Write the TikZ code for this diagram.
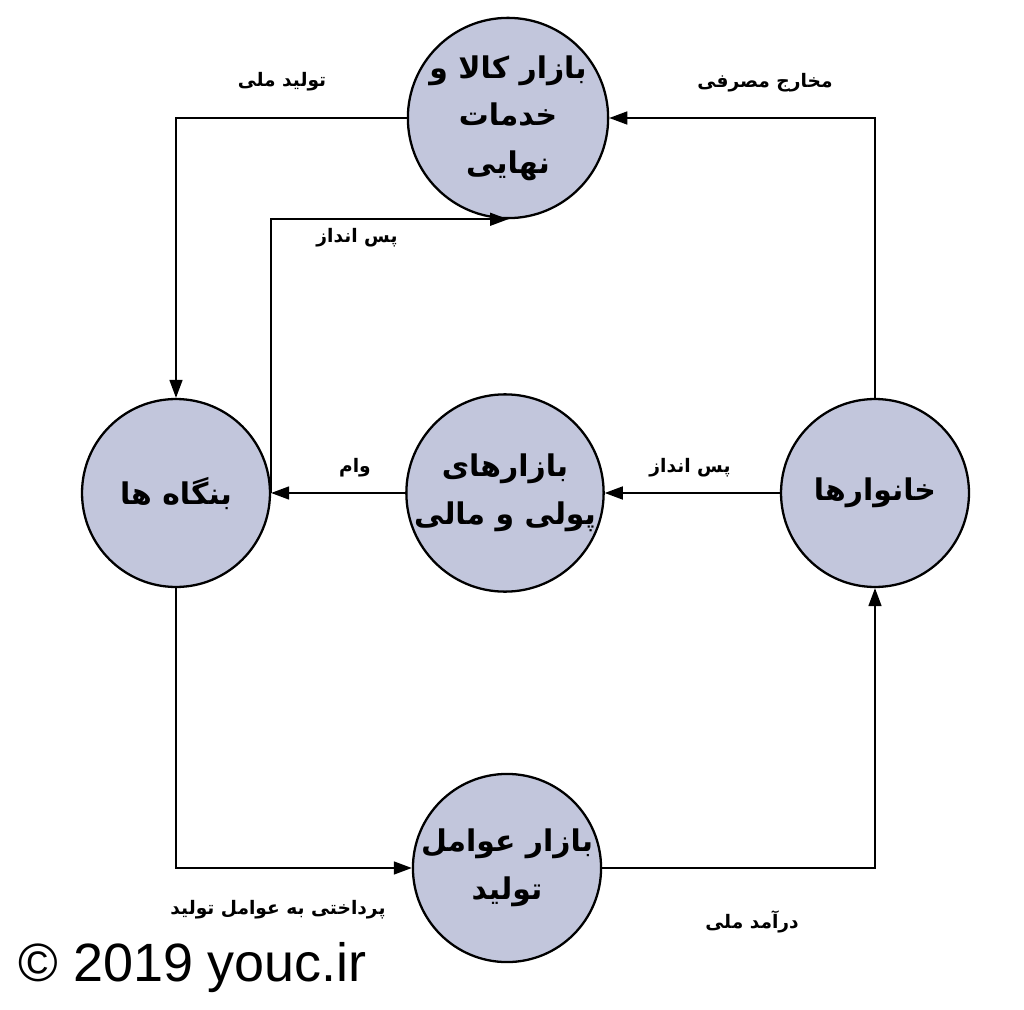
\documentclass[tikz,border=0pt]{standalone}
\usepackage{fontspec}
\usetikzlibrary{arrows.meta}
\TeXXeTstate=1
\newfontfamily\arabicfont[Script=Arabic]{DejaVu Sans}
\newfontfamily\markfont{Liberation Sans}
\definecolor{market}{RGB}{194,198,220}

\begin{document}
\begin{tikzpicture}[x=0.02cm,y=-0.02cm,
  mkt/.style={draw,circle,line width=1.3pt,fill=market,minimum size=3.76cm,inner sep=0pt,
    align=center,font=\arabicfont\bfseries\fontsize{17}{27}\selectfont},
  flow/.style={line width=0.9pt,-{Triangle[length=0.36cm,width=0.26cm]}},
  lbl/.style={font=\arabicfont\bfseries\fontsize{10.6}{12}\selectfont}]

  \useasboundingbox (0,0) rectangle (1024,1010);

  \node (goods) at (508,118) [mkt]{\beginR بازار کالا و\endR\\ \beginR خدمات\endR\\ \beginR نهایی\endR};
  \node (firms) at (176,493) [mkt]{\beginR بنگاه ها\endR};
  \node (money) at (505,493) [mkt]{\beginR بازارهای\endR\\ \beginR پولی و مالی\endR};
  \node (house) at (875,493) [mkt]{\beginR خانوارها\endR};
  \node (factor) at (507,868) [mkt]{\beginR بازار عوامل\endR\\ \beginR تولید\endR};

  \draw[flow] (goods.west) -| (firms.north);
  \draw[flow] (firms.east) |- (goods.south);
  \draw[flow] (house.north) |- (goods.east);
  \draw[flow] (house.west) -- (money.east);
  \draw[flow] (money.west) -- (firms.east);
  \draw[flow] (firms.south) |- (factor.west);
  \draw[flow] (factor.east) -| (house.south);

  \node (output) at (282,82) [lbl]{\beginR تولید ملی\endR};
  \node (save1) at (357,238) [lbl]{\beginR پس انداز\endR};
  \node (spend) at (765,83) [lbl]{\beginR مخارج مصرفی\endR};
  \node (save2) at (690,468) [lbl]{\beginR پس انداز\endR};
  \node (loan) at (355,468) [lbl]{\beginR وام\endR};
  \node (pay) at (278,910) [lbl]{\beginR پرداختی به عوامل تولید\endR};
  \node (income) at (752,922) [lbl]{\beginR درآمد ملی\endR};

  \node (copy) at (18,968) [anchor=west,inner sep=0,font=\markfont\fontsize{30.7}{36}\selectfont]{© 2019 youc.ir};

\end{tikzpicture}
\end{document}
